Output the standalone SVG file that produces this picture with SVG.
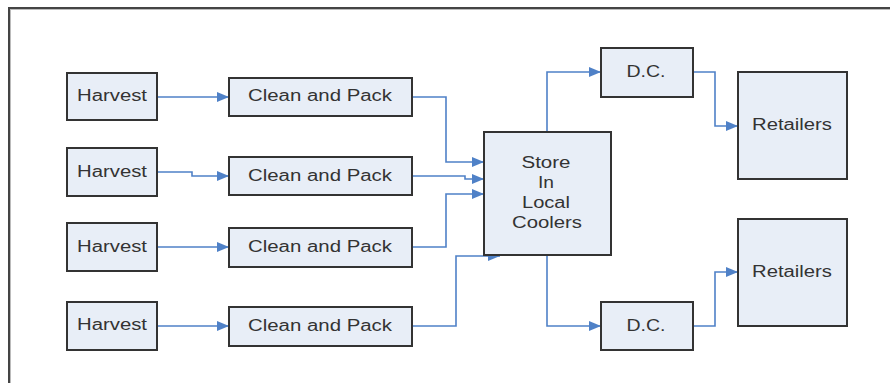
<svg xmlns="http://www.w3.org/2000/svg" width="890" height="383" viewBox="0 0 890 383">
<style>
.box{fill:#e8eef7;stroke:#333;stroke-width:2}
.t{font-family:"Liberation Sans",Arial,sans-serif;font-size:16px;fill:#333;text-anchor:middle}
.c{fill:none;stroke:#4f81c7;stroke-width:1.6;marker-end:url(#ah)}
</style>
<defs>
<marker id="ah" markerUnits="userSpaceOnUse" markerWidth="13" markerHeight="11" refX="12" refY="5" orient="auto">
<path d="M0,0 L12,5 L0,10 z" fill="#4f81c7"/>
</marker>
</defs>
<rect width="890" height="383" fill="#fff"/>
<path d="M10,384 V9 H891" fill="none" stroke="#bbb" stroke-width="2"/>
<path d="M9,384 V8 H891" fill="none" stroke="#444" stroke-width="2"/>

<g id="connectors">
<path class="c" d="M157,97 H229"/>
<path class="c" d="M157,172 H192 V176 H229"/>
<path class="c" d="M157,247 H229"/>
<path class="c" d="M157,326 H229"/>
<path class="c" d="M412,97 H446 V162 H484"/>
<path class="c" d="M412,176 H465 V179 H484"/>
<path class="c" d="M412,247 H446 V194 H484"/>
<path class="c" d="M412,326 H456 V256 H500"/>
<path class="c" d="M547,132 V72 H601"/>
<path class="c" d="M693,72 H715 V126 H738"/>
<path class="c" d="M547,255 V326 H601"/>
<path class="c" d="M693,326 H715 V272 H738"/>
</g>

<g id="harvest1"><rect class="box" x="67" y="73" width="90" height="47"/><text class="t" x="112" y="101" textLength="70" lengthAdjust="spacingAndGlyphs">Harvest</text></g>
<g id="harvest2"><rect class="box" x="67" y="148" width="90" height="48"/><text class="t" x="112" y="177" textLength="70" lengthAdjust="spacingAndGlyphs">Harvest</text></g>
<g id="harvest3"><rect class="box" x="67" y="223" width="90" height="48"/><text class="t" x="112" y="252" textLength="70" lengthAdjust="spacingAndGlyphs">Harvest</text></g>
<g id="harvest4"><rect class="box" x="67" y="302" width="90" height="48"/><text class="t" x="112" y="330" textLength="70" lengthAdjust="spacingAndGlyphs">Harvest</text></g>

<g id="clean1"><rect class="box" x="229" y="78" width="183" height="38"/><text class="t" x="320" y="101" textLength="144" lengthAdjust="spacingAndGlyphs">Clean and Pack</text></g>
<g id="clean2"><rect class="box" x="229" y="157" width="183" height="38"/><text class="t" x="320" y="181" textLength="144" lengthAdjust="spacingAndGlyphs">Clean and Pack</text></g>
<g id="clean3"><rect class="box" x="229" y="228" width="183" height="39"/><text class="t" x="320" y="252" textLength="144" lengthAdjust="spacingAndGlyphs">Clean and Pack</text></g>
<g id="clean4"><rect class="box" x="229" y="307" width="183" height="39"/><text class="t" x="320" y="331" textLength="144" lengthAdjust="spacingAndGlyphs">Clean and Pack</text></g>

<g id="store"><rect class="box" x="484" y="132" width="127" height="123"/>
<text class="t" x="546" y="168" textLength="49" lengthAdjust="spacingAndGlyphs">Store</text>
<text class="t" x="546" y="188" textLength="16" lengthAdjust="spacingAndGlyphs">In</text>
<text class="t" x="546" y="208" textLength="48" lengthAdjust="spacingAndGlyphs">Local</text>
<text class="t" x="547" y="228" textLength="70" lengthAdjust="spacingAndGlyphs">Coolers</text></g>

<g id="dc1"><rect class="box" x="601" y="48" width="92" height="49"/><text class="t" x="646" y="77" textLength="39" lengthAdjust="spacingAndGlyphs">D.C.</text></g>
<g id="dc2"><rect class="box" x="601" y="302" width="92" height="48"/><text class="t" x="646" y="331" textLength="39" lengthAdjust="spacingAndGlyphs">D.C.</text></g>

<g id="retailers1"><rect class="box" x="738" y="72" width="109" height="107"/><text class="t" x="792" y="130" textLength="80" lengthAdjust="spacingAndGlyphs">Retailers</text></g>
<g id="retailers2"><rect class="box" x="738" y="219" width="109" height="107"/><text class="t" x="792" y="277" textLength="80" lengthAdjust="spacingAndGlyphs">Retailers</text></g>
</svg>
